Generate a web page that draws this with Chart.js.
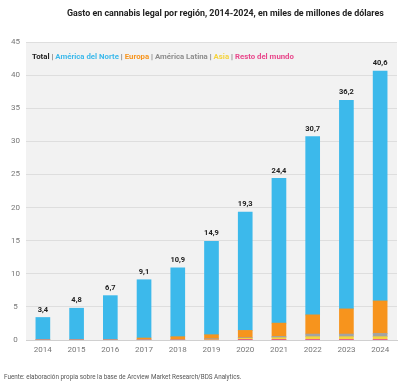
<!DOCTYPE html>
<html>
<head>
<meta charset="utf-8">
<script src="https://cdn.jsdelivr.net/npm/chart.js@4"></script>
<style>
  body { margin: 0; background: #fff; font-family: Roboto, sans-serif; }
  #wrap { position: relative; width: 410px; height: 389px; }
  #title { position: absolute; left: 67px; top: 8px; font-size: 8.9px; font-weight: bold; color: #222; white-space: nowrap; }
  #legend { position: absolute; left: 32px; top: 52px; font-size: 7.8px; font-weight: bold; color: #777; white-space: nowrap; }
  #source { position: absolute; left: 4px; top: 373px; font-size: 6.3px; color: #555; white-space: nowrap; }
</style>
</head>
<body>
<div id="wrap">
  <canvas id="myChart" width="410" height="389"></canvas>
  <div id="title">Gasto en cannabis legal por región, 2014-2024, en miles de millones de dólares</div>
  <div id="legend"><span style="color:#222">Total</span> | <span style="color:#3cb9eb">América del Norte</span> | <span style="color:#f7941d">Europa</span> | <span style="color:#8c8c8c">América Latina</span> | <span style="color:#f5d33c">Asia</span> | <span style="color:#e8478b">Resto del mundo</span></div>
  <div id="source">Fuente: elaboración propia sobre la base de Arcview Market Research/BDS Analytics.</div>
</div>
<script>
const years = ['2014', '2015', '2016', '2017', '2018', '2019', '2020', '2021', '2022', '2023', '2024'];
const totals = [3.4, 4.8, 6.7, 9.1, 10.9, 14.9, 19.3, 24.4, 30.7, 36.2, 40.6];
const totalLabels = ['3,4', '4,8', '6,7', '9,1', '10,9', '14,9', '19,3', '24,4', '30,7', '36,2', '40,6'];
const restoMundo = [0, 0, 0, 0, 0, 0, 0.05, 0.05, 0.1, 0.1, 0.1];
const asia = [0, 0, 0, 0, 0, 0.1, 0.2, 0.3, 0.4, 0.4, 0.4];
const americaLatina = [0, 0, 0, 0.1, 0.1, 0.1, 0.1, 0.2, 0.4, 0.4, 0.5];
const europa = [0, 0, 0, 0.2, 0.4, 0.6, 1.1, 2.0, 2.9, 3.8, 4.9];
const americaNorte = [3.4, 4.8, 6.7, 8.8, 10.4, 14.1, 17.85, 21.85, 26.9, 31.5, 34.7];

/* fondo gris del area del grafico */
const plotBg = {
    id: 'plotBg',
    beforeDraw(chart) {
        const { ctx, chartArea: a } = chart;
        ctx.save();
        ctx.fillStyle = '#f2f2f2';
        ctx.fillRect(a.left, a.top, a.right - a.left, a.bottom - a.top);
        ctx.restore();
    }
};

/* etiquetas con el total encima de cada barra */
const totalsOnTop = {
    id: 'totalsOnTop',
    afterDatasetsDraw(chart) {
        const { ctx, scales } = chart;
        ctx.save();
        ctx.font = 'bold 7.5px Roboto';
        ctx.fillStyle = '#222';
        ctx.textAlign = 'center';
        ctx.textBaseline = 'bottom';
        totals.forEach((t, i) => {
            const x = scales.x.getPixelForValue(i);
            const y = scales.y.getPixelForValue(t);
            ctx.fillText(totalLabels[i], x, y - 4);
        });
        ctx.restore();
    }
};

const ctx = document.getElementById('myChart');
const common = { barThickness: 14, borderWidth: 0, stack: 's' };

new Chart(ctx, {
    type: 'bar',
    data: {
        labels: years,
        datasets: [
            { label: 'Resto del mundo', data: restoMundo, backgroundColor: '#e8478b', ...common },
            { label: 'Asia', data: asia, backgroundColor: '#f5d33c', ...common },
            { label: 'América Latina', data: americaLatina, backgroundColor: '#a3a3a3', ...common },
            { label: 'Europa', data: europa, backgroundColor: '#f7941d', ...common },
            { label: 'América del Norte', data: americaNorte, backgroundColor: '#3cb9eb', ...common }
        ]
    },
    options: {
        responsive: false,
        animation: false,
        layout: { padding: { top: 42, bottom: 29, left: 0, right: 13 } },
        plugins: { legend: { display: false }, tooltip: { enabled: false } },
        scales: {
            x: {
                stacked: true,
                grid: { display: false, drawTicks: false },
                border: { display: true, color: '#d0d0d0' },
                ticks: { color: '#777', font: { family: 'Roboto', size: 8 }, padding: 5 },
                afterFit: s => { s.height = 20; }
            },
            y: {
                stacked: true,
                min: 0,
                max: 45,
                grid: { color: '#dedede', drawTicks: false },
                border: { display: false },
                ticks: { stepSize: 5, color: '#777', font: { family: 'Roboto', size: 8 }, padding: 6, crossAlign: 'center' },
                afterFit: s => { s.width = 26; }
            }
        }
    },
    plugins: [plotBg, totalsOnTop]
});
</script>
</body>
</html>
